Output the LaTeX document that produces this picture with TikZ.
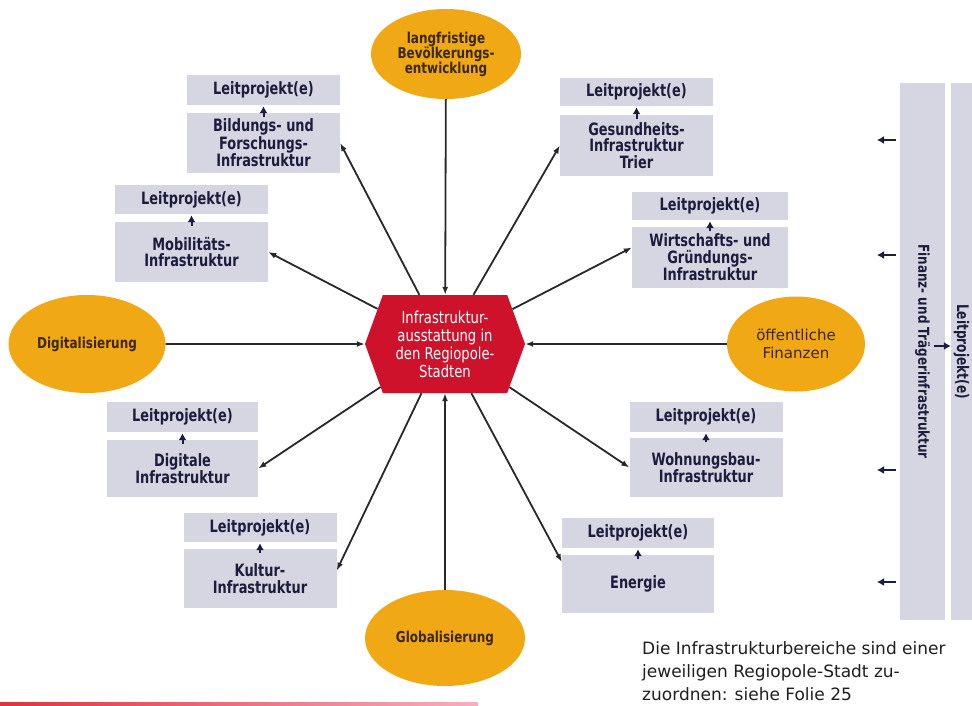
\documentclass[tikz,border=0pt]{standalone}
\usepackage{fontspec}
\usepackage{graphicx}
\setmainfont{DejaVu Sans}
\newfontfamily\cond{DejaVu Sans}[FakeStretch=0.76]
\newfontfamily\condb{DejaVu Sans}[FakeStretch=0.8]
\usetikzlibrary{arrows.meta,shapes.geometric,shapes.symbols,calc}
\definecolor{boxgrey}{RGB}{214,214,226}
\definecolor{ellc}{RGB}{240,168,20}
\definecolor{hexred}{RGB}{206,18,44}
\definecolor{boxtext}{RGB}{28,28,60}
\definecolor{elltext}{RGB}{60,40,16}
\definecolor{linec}{RGB}{40,40,44}
\tikzset{
  lbox/.style={rectangle, fill=boxgrey, minimum width=153pt, inner sep=0pt, align=center,
    text=boxtext, font=\cond\bfseries\fontsize{17}{16.5}\selectfont},
  ellnode/.style={ellipse, fill=ellc, inner sep=0pt, align=center, text=elltext,
    font=\condb\bfseries\fontsize{15}{15}\selectfont},
  conn/.style={draw=linec, line width=1.8pt, -{Latex[length=8pt,width=6pt]}},
  sarr/.style={draw=boxtext, line width=2pt, -{Latex[length=7pt,width=8pt]}},
  barbox/.style={rectangle, fill=boxgrey, minimum height=537pt, inner sep=0pt,
    text=boxtext, font=\condb\bfseries\fontsize{15}{15}\selectfont}
}
\begin{document}
\begin{tikzpicture}[x=1pt,y=-1pt]
\useasboundingbox (0,0) rectangle (972,705);
\clip (0,0) rectangle (972,705);
\fill[white] (0,0) rectangle (972,705);

% central hexagon
\node[signal, signal to=west and east, signal pointer angle=140, fill=hexred,
  minimum width=160pt, minimum height=98pt, inner sep=0pt, align=center, text=white,
  font=\condb\fontsize{16.5}{18}\selectfont] (hex) at (445,344)
  {Infrastruktur-\\ausstattung in\\den Regiopole-\\Stadten};

% ellipses
\node[ellnode, minimum width=150pt, minimum height=90pt] (pop) at (446,54)
  {langfristige\\Bevölkerungs-\\entwicklung};
\node[ellnode, minimum width=157pt, minimum height=98pt] (dig) at (87,344) {Digitalisierung};
\node[ellnode, minimum width=138pt, minimum height=95pt,
  font=\fontsize{15}{18}\selectfont] (fin) at (796,344) {öffentliche\\Finanzen};
\node[ellnode, minimum width=160pt, minimum height=96pt] (glob) at (445,638) {Globalisierung};

% boxes
\node[lbox, minimum height=30pt] (bildL) at (263.5,90) {Leitprojekt(e)};
\node[lbox, minimum height=60pt] (bildM) at (263.5,143) {Bildungs- und\\Forschungs-\\Infrastruktur};
\node[lbox, minimum height=29pt] (mobL) at (191.5,199.5) {Leitprojekt(e)};
\node[lbox, minimum height=60pt] (mobM) at (191.5,252) {Mobilitäts-\\Infrastruktur};
\node[lbox, minimum height=28pt] (gesL) at (636.5,92) {Leitprojekt(e)};
\node[lbox, minimum height=61pt] (gesM) at (636.5,145.5) {Gesundheits-\\Infrastruktur\\Trier};
\node[lbox, minimum width=156pt, minimum height=28pt] (wirL) at (710,206) {Leitprojekt(e)};
\node[lbox, minimum width=156pt, minimum height=61pt] (wirM) at (710,257.5) {Wirtschafts- und\\Gründungs-\\Infrastruktur};
\node[lbox, minimum width=151pt, minimum height=30pt] (digL) at (182.5,417) {Leitprojekt(e)};
\node[lbox, minimum width=151pt, minimum height=57pt] (digM) at (182.5,468.5) {Digitale\\Infrastruktur};
\node[lbox, minimum height=29pt] (kulL) at (260,527.5) {Leitprojekt(e)};
\node[lbox, minimum height=59pt] (kulM) at (260,578.5) {Kultur-\\Infrastruktur};
\node[lbox, minimum height=30pt] (wohL) at (706,417) {Leitprojekt(e)};
\node[lbox, minimum height=59pt] (wohM) at (706,467.5) {Wohnungsbau-\\Infrastruktur};
\node[lbox, minimum width=152pt, minimum height=30pt] (enL) at (638,533) {Leitprojekt(e)};
\node[lbox, minimum width=152pt, minimum height=58pt] (enM) at (638,584) {Energie};

% small arrows inside box pairs
\foreach \b in {bild,mob,ges,wir,dig,kul,woh,en}
  \draw[sarr] ([yshift=-4pt]\b M.north) -- ([yshift=-1pt]\b L.south);

% connectors hexagon -> boxes
\draw[conn] (hex) -- (bildM.east);
\draw[conn] (hex) -- (mobM.east);
\draw[conn] (hex) -- (gesM.west);
\draw[conn] (hex) -- ([yshift=10pt]wirM.west);
\draw[conn] (hex) -- (digM.east);
\draw[conn] (hex) -- ([yshift=8pt]kulM.east);
\draw[conn] (hex) -- (wohM.west);
\draw[conn] (hex) -- ([yshift=22pt]enM.west);

% connectors ellipses -> hexagon
\draw[conn] (pop) -- (hex);
\draw[conn] (glob) -- (hex);
\draw[conn] (dig) -- (hex);
\draw[conn] (fin) -- (hex);

% right bars
\node[barbox, minimum width=45pt] (bar1) at (922.5,351.5) {\rotatebox{-90}{Finanz- und Trägerinfrastruktur}};
\node[barbox, minimum width=21pt, font=\cond\bfseries\fontsize{16}{16}\selectfont] (bar2) at (961.5,351.5) {\rotatebox{-90}{Leitprojekt(e)}};
\coordinate (bm) at (934,346);
\draw[sarr] (bm) -- (bm -| bar2.west);
\foreach \y [count=\i] in {140,255,470,582} {
  \coordinate (r\i) at (877,\y);
  \draw[sarr] ([xshift=-4pt]bar1.west |- r\i) -- (r\i);
}

% note
\node[anchor=north west, align=left, inner sep=0pt, text=black!88,
  font=\fontsize{17}{23}\selectfont] (note) at (642,641)
  {Die Infrastrukturbereiche sind einer\\jeweiligen Regiopole-Stadt zu-\\zuordnen: siehe Folie 25};

% bottom red line
\shade[left color={rgb,255:red,222;green,50;blue,66}, right color={rgb,255:red,246;green,175;blue,190}]
  (0,702) rectangle (478,705);
\end{tikzpicture}
\end{document}
